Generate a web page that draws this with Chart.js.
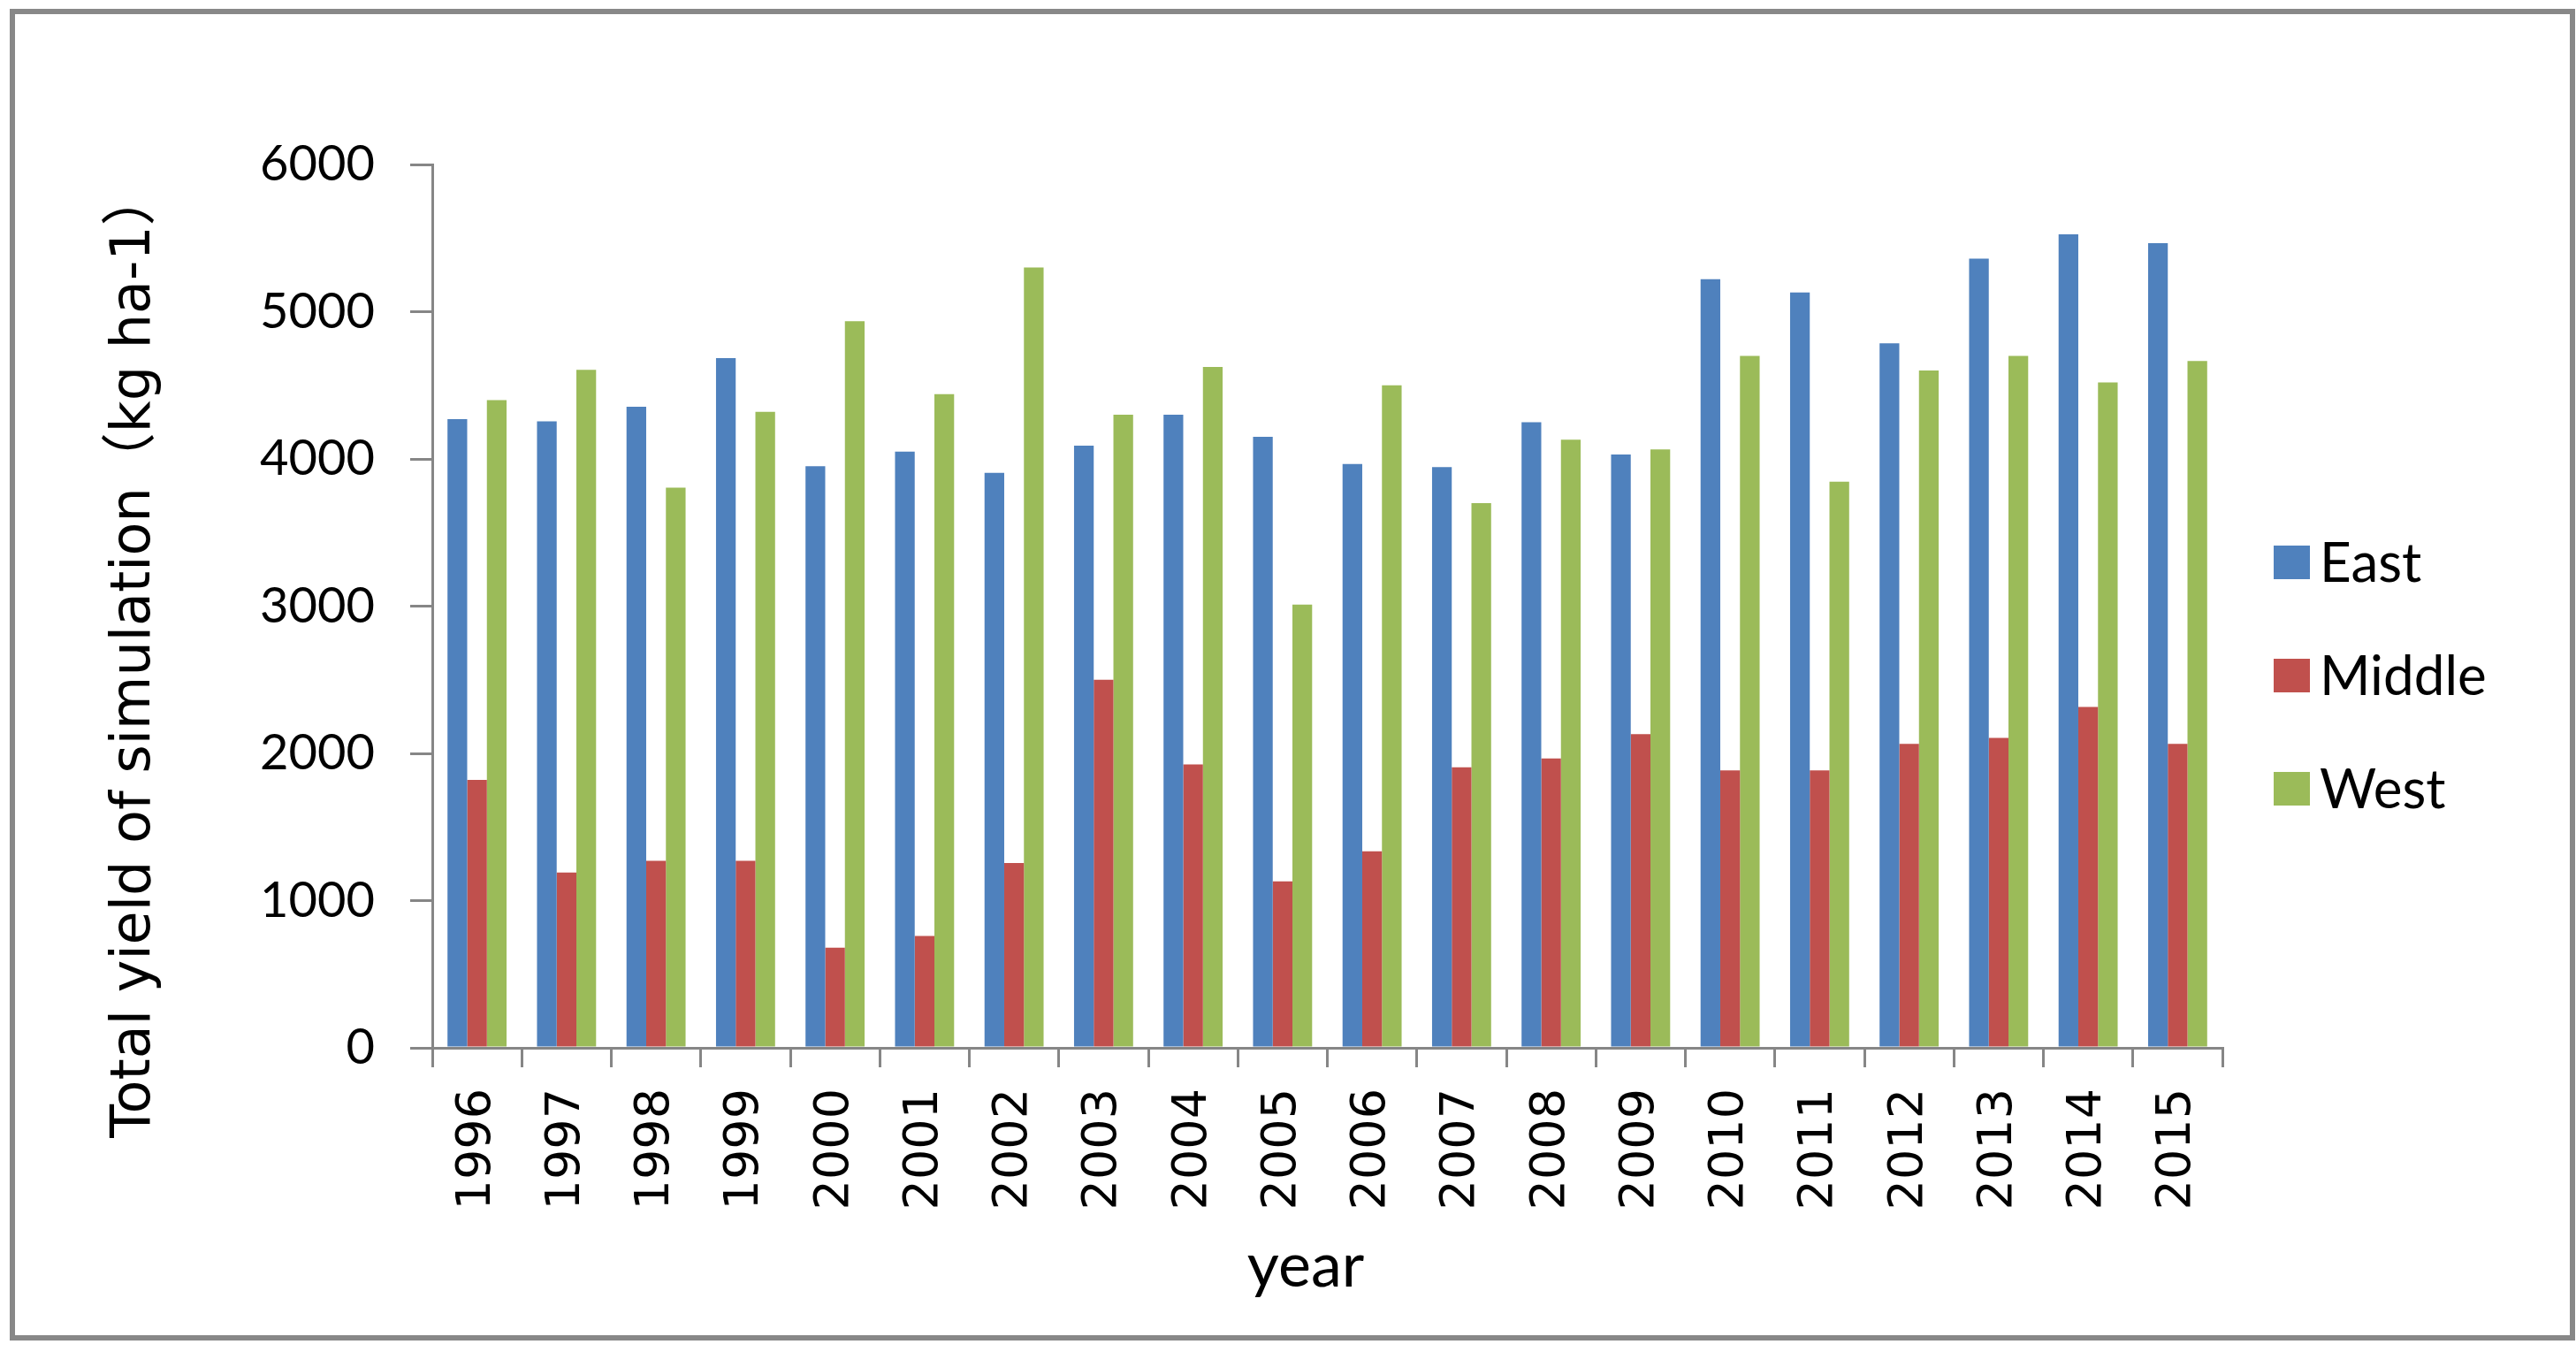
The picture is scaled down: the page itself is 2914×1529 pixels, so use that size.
<!DOCTYPE html>
<html>
<head>
<meta charset="utf-8">
<script src="https://cdn.jsdelivr.net/npm/chart.js@4.4.1/dist/chart.umd.min.js"></script>
<style>
  html, body { margin: 0; padding: 0; background: #fff; }
  #wrap { width: 2914px; height: 1529px; }
</style>
</head>
<body>
<div id="wrap"><canvas id="chart" width="2914" height="1529"></canvas></div>
<script>
// values (kg ha-1)
const years = ["1996", "1997", "1998", "1999", "2000", "2001", "2002", "2003", "2004", "2005",
  "2006", "2007", "2008", "2009", "2010", "2011", "2012", "2013", "2014", "2015"]
const east = [4270, 4255, 4355, 4685, 3950, 4050, 3905, 4090, 4300, 4150,
  3965, 3945, 4250, 4030, 5220, 5130, 4785, 5360, 5525, 5465]
const middle = [1820, 1190, 1270, 1270, 680, 760, 1255, 2500, 1925, 1130,
  1335, 1905, 1965, 2130, 1885, 1885, 2065, 2105, 2315, 2065]
const west = [4400, 4605, 3805, 4320, 4935, 4440, 5300, 4300, 4625, 3010,
  4500, 3700, 4130, 4065, 4700, 3845, 4600, 4700, 4520, 4665]
const yTicks = [0, 1000, 2000, 3000, 4000, 5000, 6000]

const yTitle = "Total yield of simulation（kg ha-1）"
const xTitle = "year"

const axisGray = "#868686"
const calibriLike = "Lato, 'Open Sans', sans-serif"
const verdanaLike = "'DejaVu Sans', 'Noto Sans CJK SC', sans-serif"

// white page, grey frame, axis titles and the legend on the right
const decor = {
  id: "decor",
  beforeDraw(chart) {
    const ctx = chart.ctx
    ctx.save()
    ctx.fillStyle = "#fff"
    ctx.fillRect(0, 0, chart.width, chart.height)
    ctx.restore()
  },
  afterDraw(chart) {
    const ctx = chart.ctx
    ctx.save()
    ctx.strokeStyle = "#888"
    ctx.lineWidth = 6
    ctx.strokeRect(14, 13, 2896, 1500)

    ctx.fillStyle = "#000"
    ctx.font = `62px ${verdanaLike}`
    ctx.textAlign = "center"
    ctx.textBaseline = "middle"
    ctx.translate(153, 740)
    ctx.rotate(-Math.PI / 2)
    ctx.fillText(yTitle, 0, 0)
    ctx.restore()

    ctx.save()
    ctx.fillStyle = "#000"
    ctx.font = `70px ${calibriLike}`
    ctx.textAlign = "center"
    ctx.textBaseline = "middle"
    ctx.fillText(xTitle, 1477, 1432)

    ctx.font = `62px ${calibriLike}`
    ctx.textAlign = "left"
    chart.data.datasets.forEach((ds, i) => {
      const cy = 636 + i * 128
      ctx.fillStyle = ds.backgroundColor
      ctx.fillRect(2572, cy - 19, 41, 38)
      ctx.fillStyle = "#000"
      ctx.fillText(ds.label, 2624, cy + 2)
    })
    ctx.restore()
  }
}

new Chart(document.getElementById("chart").getContext("2d"), {
  type: "bar",
  data: {
    labels: years,
    datasets: [
      { label: "East", data: east, backgroundColor: "#4F81BD" },
      { label: "Middle", data: middle, backgroundColor: "#C0504D" },
      { label: "West", data: west, backgroundColor: "#9BBB59" }
    ]
  },
  options: {
    responsive: false,
    devicePixelRatio: 1,
    animation: false,
    layout: { padding: { top: 186, right: 400, bottom: 0, left: 0 } },
    datasets: { bar: { categoryPercentage: 0.66, barPercentage: 1.0, borderWidth: 0 } },
    plugins: {
      legend: { display: false },
      tooltip: { enabled: false }
    },
    scales: {
      x: {
        offset: true,
        grid: { offset: true, drawOnChartArea: false, drawTicks: true, tickLength: 22, color: axisGray, lineWidth: 3 },
        border: { color: axisGray, width: 3 },
        ticks: {
          autoSkip: false,
          minRotation: 90,
          maxRotation: 90,
          padding: 24,
          color: "#000",
          font: { family: verdanaLike, size: 54 }
        },
        afterFit: (s) => { s.height = 344 }
      },
      y: {
        min: 0,
        max: 6000,
        afterBuildTicks: (s) => { s.ticks = yTicks.map((v) => ({ value: v })) },
        grid: { drawOnChartArea: false, drawTicks: true, tickLength: 25, color: axisGray, lineWidth: 3 },
        border: { color: axisGray, width: 3 },
        ticks: {
          padding: 40,
          color: "#000",
          font: { family: calibriLike, size: 56 },
          callback: (v) => String(v)
        },
        afterFit: (s) => { s.width = 489 }
      }
    }
  },
  plugins: [decor]
})
</script>
</body>
</html>
